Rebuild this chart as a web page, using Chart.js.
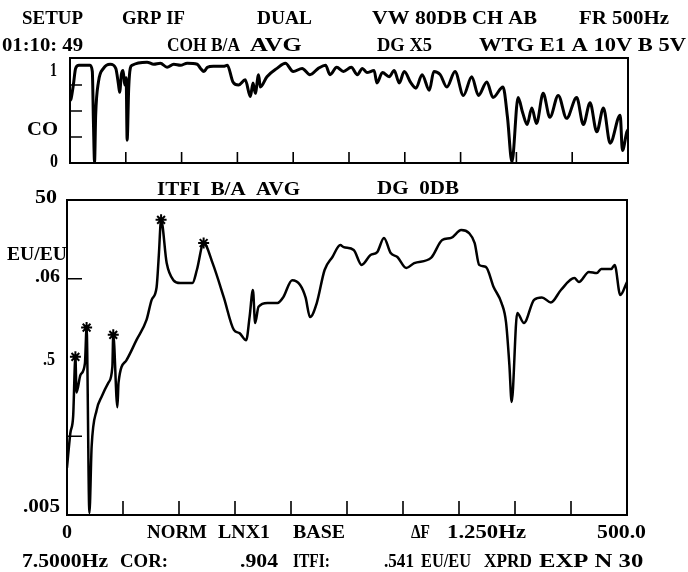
<!DOCTYPE html>
<html>
<head>
<meta charset="utf-8">
<script src="https://cdn.jsdelivr.net/npm/chart.js@4.4.1/dist/chart.umd.min.js"></script>
<style>
html,body{margin:0;padding:0;background:#fff;}
#wrap{position:relative;width:688px;height:572px;}
canvas{position:absolute;left:0;top:0;}
</style>
</head>
<body>
<div id="wrap">
<canvas id="coh" width="688" height="572"></canvas>
<canvas id="itf" width="688" height="572"></canvas>
</div>
<script>
// coherence trace (top panel), Hz / coherence
let cohFreq=[0,1,3,5,8,18,20,21,22,23,25.5,30,36,41,43.5,44.5,46,47.6,49,50.3,51.2,52.6,54,55.7,69,75,81,87,93,99,105,114,117,120,123,128.5,137.5,141,146,151,157,161.6,164,166,169,170.5,176.5,185.5,193,200,208,215,222.5,229,233,239,245,252,257.5,262,266,272.5,275,280,286,290.5,295,299.5,305.5,310,315.5,322,326,331.7,337.7,345,352.5,360,366,373.5,379,388,392,396,401.5,405.7,409.6,413.8,418,424,430,437.5,445,454,460,466,472,478,484,493,495,499,500];
let cohValues=[0.6,0.62,0.75,0.91,0.94,0.94,0.88,0.39,0.01,0.46,0.78,0.91,0.95,0.91,0.75,0.68,0.85,0.89,0.75,0.82,0.22,0.72,0.91,0.94,0.97,0.95,0.96,0.92,0.95,0.94,0.96,0.95,0.91,0.88,0.92,0.93,0.93,0.94,0.78,0.75,0.80,0.64,0.77,0.67,0.85,0.73,0.83,0.91,0.96,0.88,0.91,0.85,0.91,0.94,0.85,0.92,0.88,0.92,0.85,0.91,0.87,0.89,0.77,0.87,0.83,0.89,0.77,0.88,0.77,0.72,0.85,0.70,0.88,0.85,0.73,0.88,0.65,0.83,0.65,0.78,0.63,0.73,0.44,0.01,0.63,0.48,0.37,0.53,0.38,0.67,0.44,0.65,0.43,0.63,0.37,0.58,0.30,0.53,0.19,0.46,0.12,0.30,0.32];

// transfer function magnitude (bottom panel), Hz / EU/EU
let itfFreq=[0,3,5.5,7.5,8.5,12,16,17.5,20,22,26.5,31,37,40.5,41.3,45,46,53,62,71,75.6,80,82,84,89,95,101,112,116,122,130,140,149,154,160,163,166,168,171,179,188,193,201,208,213,217,223,230,237,244,247,256,263,271,277,283,289,295,303,310,325,335,343,352,359,364,368,374,381,388,392,395,397,402,408,417,424,432,441,453,457,466,473,477,486,489,494,500];
let itfValues=[0.02,0.055,0.09,0.51,0.18,0.3,0.42,1.2,0.0053,0.037,0.108,0.16,0.24,0.38,0.97,0.117,0.24,0.46,0.83,1.5,2.7,3.9,10,28,7.9,4.8,4.4,4.4,6.5,14.2,7.9,2.9,1.12,1.02,0.83,1.63,3.6,1.37,2.2,2.46,2.46,2.9,4.8,4.2,2.9,1.63,2.46,6.46,9.45,13.4,12.6,11.6,7.5,10.0,10.9,16.5,10.6,9.45,6.85,7.9,9.2,15.5,16.5,20.8,19.0,14.2,7.5,7.05,3.9,2.46,1.4,0.4,0.136,1.84,1.37,2.7,2.9,2.5,3.6,5.1,4.55,6.1,5.9,6.65,6.65,7.5,3.1,4.55];

// peak markers
let peakFreq=[7.5,17.5,41.3,84,122];
let peakValues=[0.51,1.2,0.97,28,14.2];

// tick marks
let xTickValues=[50,100,150,200,250,300,350,400,450];
let cohTickValues=[0.25,0.5,0.75];
let itfTickValues=[5,0.05];

function pts(xs,ys){return xs.map((x,i)=>({x:x,y:ys[i]}));}

const frame={
  id:'frame',
  afterDatasetsDraw(chart,args,opts){
    const {ctx,chartArea:a,scales}=chart;
    ctx.save();
    ctx.strokeStyle='#000';
    ctx.lineWidth=2;
    ctx.strokeRect(a.left,a.top,a.right-a.left,a.bottom-a.top);
    ctx.lineWidth=1.6;
    ctx.beginPath();
    opts.xTicks.forEach(v=>{
      const px=scales.x.getPixelForValue(v);
      ctx.moveTo(px,a.bottom);ctx.lineTo(px,a.bottom-opts.xLen);
    });
    opts.yTicks.forEach(v=>{
      const py=scales.y.getPixelForValue(v);
      ctx.moveTo(a.left,py);ctx.lineTo(a.left+opts.yLen,py);
    });
    ctx.stroke();
    ctx.restore();
  }
};

// text items: text, left, baseline, width
let texts=[
  ['SETUP',22,24,61],['GRP IF',122,24,63],['DUAL',257,24,55],['VW 80DB',372,24,95],['CH AB',472,24,65],['FR 500Hz',579,24,90],
  ['01:10: 49',2,51,81],['COH B/A',167,51,73],['AVG',250,51,52],['DG X5',377,51,55],['WTG E1 A 10V B 5V',479,51,207],
  ['1',50,76,7],['CO',27,135,31],['0',50,167,8],
  ['ITFI  B/A  AVG',157,195,143],['DG  0DB',377,194,82],
  ['50',35,203,22],['EU/EU',7,260,60],['.06',35,282,25],['.5',43,365,12],['.005',23,512,37],
  ['0',62,538,10],['NORM',147,538,60],['LNX1',218,538,52],['BASE',293,538,52],['\u0394F',411,538,19],['1.250Hz',447,538,79],['500.0',597,538,49],
  ['7.5000Hz',22,567,86],['COR:',120,567,48],['.904',240,567,38],['ITFI:',293,567,37],['.541',384,567,30],['EU/EU',421,567,50],['XPRD',484,567,48],
  ['EXP N 30',539,567,149]
];

const labels={
  id:'labels',
  afterDraw(chart){
    const ctx=chart.ctx;
    ctx.save();
    ctx.fillStyle='#000';
    ctx.font='bold 19px "Liberation Serif", "DejaVu Serif", serif';
    ctx.textBaseline='alphabetic';
    texts.forEach(t=>{
      const w=ctx.measureText(t[0]).width;
      let s=t[3]/w;
      s=Math.max(0.6,Math.min(1.3,s));
      ctx.save();
      ctx.translate(t[1],t[2]);
      ctx.scale(s,1);
      ctx.fillText(t[0],0,0);
      ctx.restore();
    });
    ctx.restore();
  }
};

new Chart('coh',{
  type:'line',
  data:{datasets:[{data:pts(cohFreq,cohValues),borderColor:'#000',borderWidth:3,pointRadius:0,cubicInterpolationMode:'monotone',borderJoinStyle:'round',borderCapStyle:'round'}]},
  options:{
    responsive:false,animation:false,devicePixelRatio:1,
    layout:{padding:{left:70,top:58,right:60,bottom:409}},
    plugins:{legend:{display:false},tooltip:{enabled:false},
      frame:{xTicks:xTickValues,yTicks:cohTickValues,xLen:11,yLen:12}},
    scales:{
      x:{type:'linear',min:0,max:500,display:false},
      y:{type:'linear',min:0,max:1.01,display:false}
    }
  },
  plugins:[frame]
});

new Chart('itf',{
  type:'line',
  data:{datasets:[
    {data:pts(itfFreq,itfValues),borderColor:'#000',borderWidth:2.5,pointRadius:0,cubicInterpolationMode:'monotone',borderJoinStyle:'round',borderCapStyle:'round'},
    {data:pts(peakFreq,peakValues),showLine:false,pointStyle:'star',pointRadius:5.5,borderColor:'#000',pointBorderWidth:2,backgroundColor:'#000'}
  ]},
  options:{
    responsive:false,animation:false,devicePixelRatio:1,
    layout:{padding:{left:67,top:200,right:61,bottom:57}},
    plugins:{legend:{display:false},tooltip:{enabled:false},
      frame:{xTicks:xTickValues,yTicks:itfTickValues,xLen:14,yLen:15}},
    scales:{
      x:{type:'linear',min:0,max:500,display:false},
      y:{type:'logarithmic',min:0.005,max:50,display:false}
    }
  },
  plugins:[frame,labels]
});
</script>
</body>
</html>
